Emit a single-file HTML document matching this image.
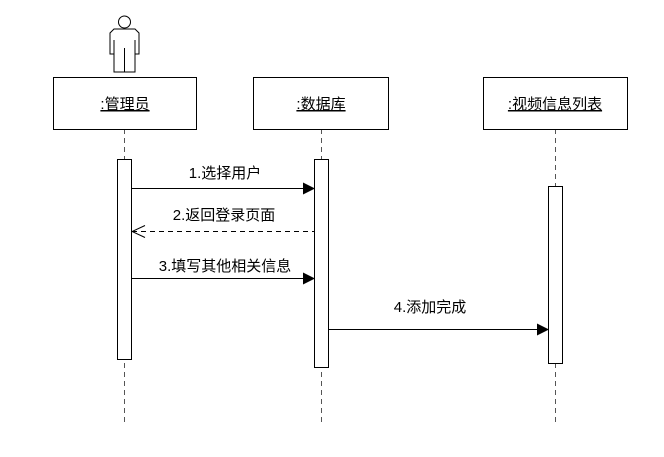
<!DOCTYPE html>
<html><head><meta charset="utf-8"><style>
body{margin:0;background:#fff;}
svg text{font-family:"Liberation Sans","Noto Sans CJK SC",sans-serif;font-size:15px;fill:#000;}
</style></head><body>
<svg width="664" height="452" xmlns="http://www.w3.org/2000/svg">
<defs>
<marker id="f" markerWidth="12" markerHeight="12" refX="11" refY="6" orient="auto" markerUnits="userSpaceOnUse"><path d="M0,0 L12,6 L0,12 Z" fill="#000"/></marker>
<marker id="o" markerWidth="14" markerHeight="14" refX="0" refY="7" orient="auto" markerUnits="userSpaceOnUse"><path d="M13,1 L0,7 L13,13" fill="none" stroke="#000"/></marker>
</defs>
<g stroke="#000" fill="#fff">
<circle cx="124.5" cy="22" r="6"/>
<path d="M114,29 H135 L139,33 V54 H135 V72 H114 V54 H110 V33 Z"/>
<path d="M114,40 V54 M135,40 V54 M124.5,48 V72" fill="none"/>
</g>
<g stroke="#555" stroke-dasharray="5,4" fill="none">
<line x1="124.5" y1="129" x2="124.5" y2="422"/>
<line x1="321.5" y1="129" x2="321.5" y2="422"/>
<line x1="555.5" y1="129" x2="555.5" y2="422"/>
</g>
<g stroke="#000" fill="#fff">
<rect x="53.5" y="77.5" width="143" height="52"/>
<rect x="253.5" y="77.5" width="135" height="52"/>
<rect x="483.5" y="77.5" width="144" height="52"/>
<rect x="117.5" y="159.5" width="14" height="200"/>
<rect x="314.5" y="159.5" width="14" height="208"/>
<rect x="548.5" y="186.5" width="14" height="177"/>
</g>
<text x="125" y="109" text-anchor="middle" text-decoration="underline">:管理员</text>
<text x="321" y="109" text-anchor="middle" text-decoration="underline">:数据库</text>
<text x="555" y="109" text-anchor="middle" text-decoration="underline">:视频信息列表</text>
<line x1="131" y1="188.5" x2="314" y2="188.5" stroke="#000" marker-end="url(#f)"/>
<text x="225" y="178" text-anchor="middle">1.选择用户</text>
<line x1="132" y1="231.5" x2="314" y2="231.5" stroke="#000" stroke-dasharray="5,4" marker-start="url(#o)"/>
<text x="224" y="220" text-anchor="middle">2.返回登录页面</text>
<line x1="131" y1="278.5" x2="314" y2="278.5" stroke="#000" marker-end="url(#f)"/>
<text x="225" y="271" text-anchor="middle">3.填写其他相关信息</text>
<line x1="328" y1="329.5" x2="548" y2="329.5" stroke="#000" marker-end="url(#f)"/>
<text x="430" y="312" text-anchor="middle">4.添加完成</text>
</svg>
</body></html>
